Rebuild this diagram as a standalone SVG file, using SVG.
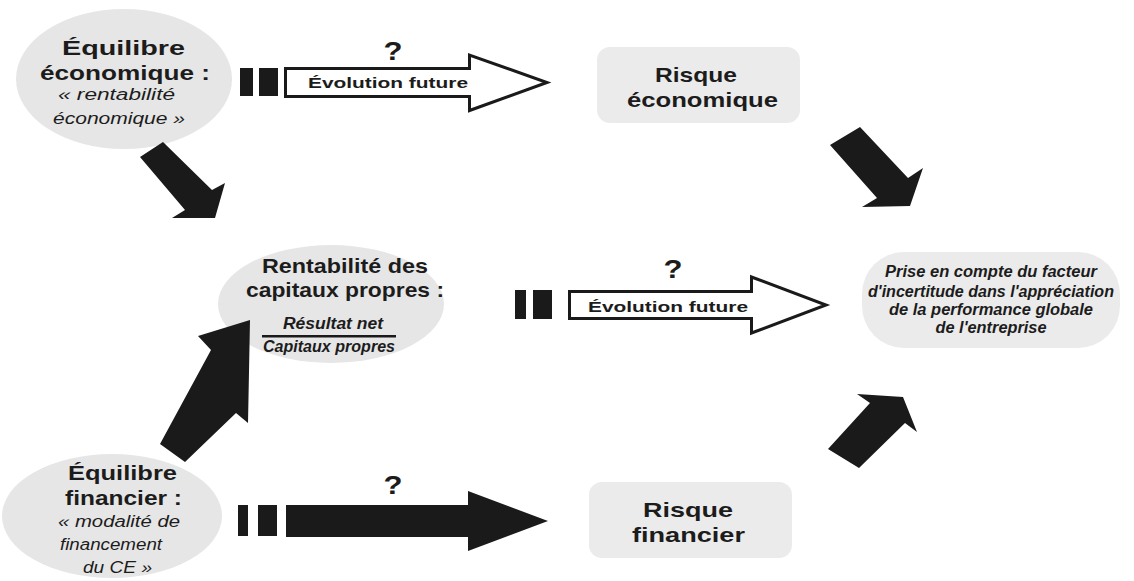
<svg xmlns="http://www.w3.org/2000/svg" width="1134" height="581" viewBox="0 0 1134 581">
  <style>
    .ell { fill: #e6e6e6; }
    .box { fill: #ebebeb; }
    .blk { fill: #1a1a1a; }
    .hollow { fill: #ffffff; stroke: #1a1a1a; stroke-width: 3; stroke-linejoin: miter; }
    text { font-family: "Liberation Sans", Arial, sans-serif; fill: #1c1c1c; text-anchor: middle; }
    .b { font-weight: bold; font-size: 21px; }
    .i { font-style: italic; font-size: 16px; }
    .bi { font-weight: bold; font-style: italic; font-size: 16px; }
    .lbl { font-weight: bold; font-size: 15px; }
    .q { font-weight: bold; font-size: 25px; }
  </style>

  <!-- nodes -->
  <g id="equilibre-economique">
    <ellipse class="ell" cx="124" cy="79" rx="108" ry="70"/>
    <text class="b" x="123.5" y="55" textLength="123" lengthAdjust="spacingAndGlyphs">Équilibre</text>
    <text class="b" x="125" y="80" textLength="170" lengthAdjust="spacingAndGlyphs">économique :</text>
    <text class="i" x="116.5" y="100" textLength="117" lengthAdjust="spacingAndGlyphs">« rentabilité</text>
    <text class="i" x="119" y="124" textLength="132" lengthAdjust="spacingAndGlyphs">économique »</text>
  </g>

  <g id="risque-economique">
    <rect class="box" x="597" y="47" width="203" height="76" rx="13"/>
    <text class="b" x="696" y="82" textLength="82" lengthAdjust="spacingAndGlyphs">Risque</text>
    <text class="b" x="702.5" y="107" textLength="151" lengthAdjust="spacingAndGlyphs">économique</text>
  </g>

  <g id="rentabilite-capitaux">
    <ellipse class="ell" cx="331" cy="304" rx="113" ry="59"/>
    <text class="b" x="345" y="273" textLength="166" lengthAdjust="spacingAndGlyphs">Rentabilité des</text>
    <text class="b" x="345" y="297" textLength="198" lengthAdjust="spacingAndGlyphs">capitaux propres :</text>
    <text class="bi" x="333" y="329" textLength="100" lengthAdjust="spacingAndGlyphs">Résultat net</text>
    <rect class="blk" x="262" y="335" width="134" height="2.5"/>
    <text class="bi" x="329" y="352" textLength="132" lengthAdjust="spacingAndGlyphs">Capitaux propres</text>
  </g>

  <g id="performance-globale">
    <rect class="box" x="862" y="252" width="258" height="96" rx="42"/>
    <text class="bi" x="991" y="277" textLength="212" lengthAdjust="spacingAndGlyphs">Prise en compte du facteur</text>
    <text class="bi" x="991" y="297" textLength="246" lengthAdjust="spacingAndGlyphs">d'incertitude dans l'appréciation</text>
    <text class="bi" x="991" y="315" textLength="204" lengthAdjust="spacingAndGlyphs">de la performance globale</text>
    <text class="bi" x="991" y="333" textLength="111" lengthAdjust="spacingAndGlyphs">de l'entreprise</text>
  </g>

  <g id="equilibre-financier">
    <ellipse class="ell" cx="112" cy="516" rx="110" ry="62"/>
    <text class="b" x="122.5" y="480" textLength="109" lengthAdjust="spacingAndGlyphs">Équilibre</text>
    <text class="b" x="123.5" y="505" textLength="117" lengthAdjust="spacingAndGlyphs">financier :</text>
    <text class="i" x="119" y="527" textLength="122" lengthAdjust="spacingAndGlyphs">« modalité de</text>
    <text class="i" x="111" y="550" textLength="102" lengthAdjust="spacingAndGlyphs">financement</text>
    <text class="i" x="117.5" y="573" textLength="69" lengthAdjust="spacingAndGlyphs">du CE »</text>
  </g>

  <g id="risque-financier">
    <rect class="box" x="589" y="482" width="203" height="76" rx="13"/>
    <text class="b" x="688" y="517" textLength="90" lengthAdjust="spacingAndGlyphs">Risque</text>
    <text class="b" x="688.5" y="542" textLength="113" lengthAdjust="spacingAndGlyphs">financier</text>
  </g>

  <!-- connectors -->
  <g id="connectors">
    <!-- economic equilibrium: future evolution -->
    <rect class="blk" x="240" y="68" width="13" height="28"/>
    <rect class="blk" x="259" y="68" width="19" height="28"/>
    <path class="hollow" d="M285.5,68.5 H469.5 V55 L547,82.5 L469.5,110.5 V96.5 H285.5 Z"/>
    <text class="q" x="393" y="60" textLength="19" lengthAdjust="spacingAndGlyphs">?</text>
    <text class="lbl" x="388" y="88" textLength="160" lengthAdjust="spacingAndGlyphs">Évolution future</text>

    <!-- return on equity: future evolution -->
    <rect class="blk" x="515" y="290" width="11" height="29"/>
    <rect class="blk" x="533" y="290" width="19" height="29"/>
    <path class="hollow" d="M569.5,291.5 H751.5 V277 L826,305 L751.5,333 V318.5 H569.5 Z"/>
    <text class="q" x="673" y="278" textLength="19" lengthAdjust="spacingAndGlyphs">?</text>
    <text class="lbl" x="668" y="312" textLength="160" lengthAdjust="spacingAndGlyphs">Évolution future</text>

    <!-- financial equilibrium: solid arrow -->
    <rect class="blk" x="238" y="505" width="10" height="31"/>
    <rect class="blk" x="258" y="505" width="19" height="31"/>
    <polygon class="blk" points="286,505 468,505 468,491 548,521 468,551 468,537 286,537"/>
    <text class="q" x="393" y="494" textLength="19" lengthAdjust="spacingAndGlyphs">?</text>

    <!-- diagonal block arrows -->
    <polygon class="blk" points="140,157 163,142 212,190 225,183 215,218 172,218 185,210"/>
    <polygon class="blk" points="830,145 860,127 908,178 923,168 910,206 862,207 877,198"/>
    <polygon class="blk" points="828,449 859,468 905,423 917,432 903,397 857,394 870,403"/>
    <polygon class="blk" points="160,444 185,462 236,413 248,423 250,320 198,336 211,350"/>
  </g>
</svg>
